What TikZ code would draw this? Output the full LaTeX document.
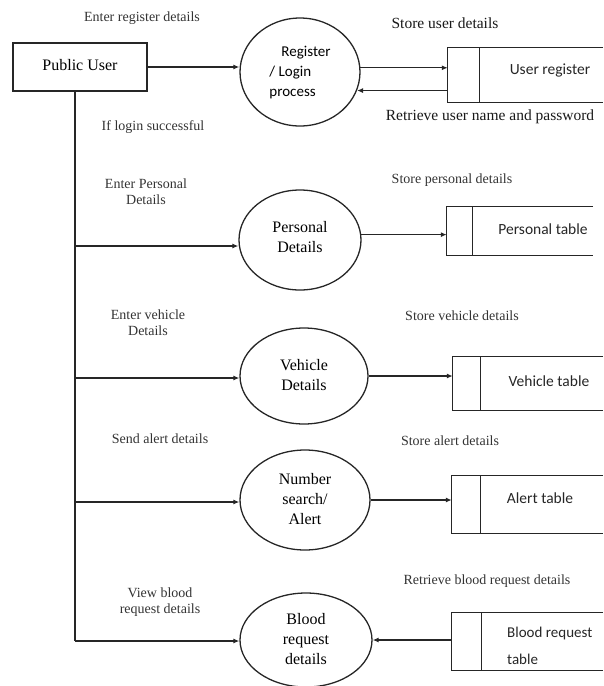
\documentclass[tikz,border=0pt]{standalone}
\usepackage{fontspec}
\setmainfont{Liberation Serif}
\newfontfamily\cfont{Carlito}
\usetikzlibrary{shapes.geometric,arrows.meta,calc}
\begin{document}
\begin{tikzpicture}[x=1pt,y=-1pt,
  proc/.style={ellipse, draw=black!85, line width=1.3pt, inner sep=0pt, font=\fontsize{16}{20}\selectfont},
  lbl/.style={font=\fontsize{14}{16}\selectfont, text=black!80, align=center, inner sep=0pt},
  big/.style={font=\fontsize{15.5}{18}\selectfont, text=black!90, inner sep=0pt},
  stext/.style={font=\cfont\fontsize{15.5}{18}\selectfont, text=black!85, inner sep=0pt},
  sbox/.style={rectangle, inner sep=0pt},
  ln/.style={draw=black!85, line width=1.2pt},
  arr/.style={draw=black!85, line width=1.2pt, -{Latex[length=6pt,width=5pt]}}]
\useasboundingbox (0,0) rectangle (603,686);

% external entity
\node[draw=black!85, line width=1.3pt, minimum width=134pt, minimum height=48pt, inner sep=0pt,
      font=\fontsize{16}{20}\selectfont] (pu) at (80,67) {\raisebox{5pt}{Public User}};

% processes
\node[proc, minimum width=120pt, minimum height=108pt] (reg) at (300,72)
  {\cfont\fontsize{15}{20}\selectfont\begin{tabular}{@{}l@{}}\hspace*{12pt}Register\\/ Login\\process\end{tabular}};
\node[proc, minimum width=122pt, minimum height=100pt] (per) at (300,240)
  {\raisebox{18pt}{\begin{tabular}{@{}c@{}}Personal\\Details\end{tabular}}};
\node[proc, minimum width=128pt, minimum height=96pt] (veh) at (304,376)
  {\raisebox{6pt}{\begin{tabular}{@{}c@{}}Vehicle\\Details\end{tabular}}};
\node[proc, minimum width=130pt, minimum height=100pt] (num) at (305,500)
  {\begin{tabular}{@{}c@{}}Number\\search/\\Alert\end{tabular}};
\node[proc, minimum width=132pt, minimum height=94pt] (bl) at (306,640)
  {\begin{tabular}{@{}c@{}}Blood\\request\\details\end{tabular}};

% data stores
\node[sbox, minimum width=155pt, minimum height=54pt] (ur) at (525.5,75) {};
\draw[ln] (ur.north east) -- (ur.north west) -- (ur.south west) -- (ur.south east);
\draw[ln] ([xshift=32pt]ur.north west) -- ([xshift=32pt]ur.south west);
\node[stext] (urt) at (550,70) {User register};

\node[sbox, minimum width=146pt, minimum height=48pt] (pt) at (520,231) {};
\draw[ln] (pt.north east) -- (pt.north west) -- (pt.south west) -- (pt.south east);
\draw[ln] ([xshift=26pt]pt.north west) -- ([xshift=26pt]pt.south west);
\node[stext] (ptt) at (543,229) {Personal table};

\node[sbox, minimum width=150pt, minimum height=53pt] (vt) at (528,383.5) {};
\draw[ln] (vt.north east) -- (vt.north west) -- (vt.south west) -- (vt.south east);
\draw[ln] ([xshift=28pt]vt.north west) -- ([xshift=28pt]vt.south west);
\node[stext] (vtt) at (549,381) {Vehicle table};

\node[sbox, minimum width=151pt, minimum height=57pt] (at) at (527.5,504.5) {};
\draw[ln] (at.north east) -- (at.north west) -- (at.south west) -- (at.south east);
\draw[ln] ([xshift=29pt]at.north west) -- ([xshift=29pt]at.south west);
\node[stext] (att) at (540,498) {Alert table};

\node[sbox, minimum width=151pt, minimum height=57pt] (bt) at (527.5,641.5) {};
\draw[ln] (bt.north east) -- (bt.north west) -- (bt.south west) -- (bt.south east);
\draw[ln] ([xshift=30pt]bt.north west) -- ([xshift=30pt]bt.south west);
\node[stext, anchor=west, align=left, font=\cfont\fontsize{15}{27}\selectfont] (btt) at (507,646) {Blood request\\table};

% trunk
\coordinate (t0) at (75,91);
\coordinate (tp) at (75,246);
\coordinate (tv) at (75,378);
\coordinate (tn) at (75,502);
\coordinate (tb) at (75,641);
\draw[ln] (t0) -- (tb);

% flows
\draw[arr] (pu.east) -- (pu.east -| reg.west);
\draw[arr] (reg.4) -- (reg.4 -| ur.west);
\draw[arr] (reg.-18 -| ur.west) -- (reg.-18);
\draw[arr] (tp) -- (tp -| per.west);
\draw[arr] (per.5) -- (per.5 -| pt.west);
\draw[arr] (tv) -- (tv -| veh.west);
\draw[arr] (veh.east) -- (veh.east -| vt.west);
\draw[arr] (tn) -- (tn -| num.west);
\draw[arr] (num.east) -- (num.east -| at.west);
\draw[arr] (tb) -- (tb -| bl.west);
\draw[arr] (bl.east -| bt.west) -- (bl.east);

% labels
\node[lbl] (l1) at (142,18) {Enter register details};
\node[big] (l2) at (445,23) {Store user details};
\node[big] (l3) at (490,117) {Retrieve user name and password};
\node[lbl] (l4) at (153,127) {If login successful};
\node[lbl] (l5) at (146,192) {Enter Personal\\Details};
\node[lbl] (l6) at (452,180) {Store personal details};
\node[lbl] (l7) at (148,323) {Enter vehicle\\Details};
\node[lbl] (l8) at (462,316) {Store vehicle details};
\node[lbl] (l9) at (160,439) {Send alert details};
\node[lbl] (l10) at (450,441) {Store alert details};
\node[lbl] (l11) at (160,602) {View blood\\request details};
\node[lbl] (l12) at (487,581) {Retrieve blood request details};
\end{tikzpicture}
\end{document}
